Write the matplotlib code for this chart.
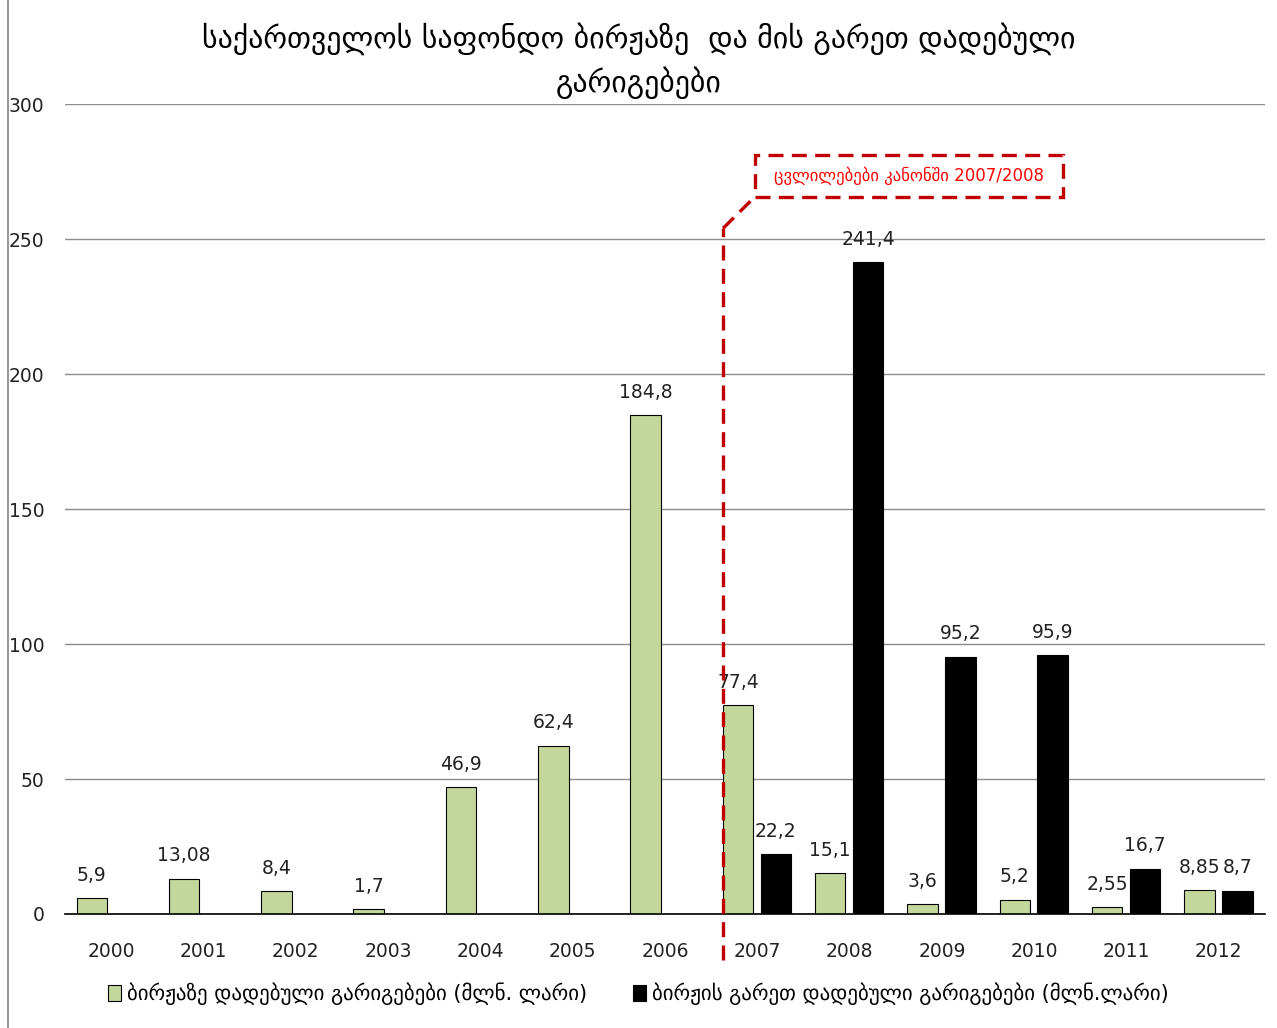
import numpy as np
import matplotlib.pyplot as plt
from matplotlib.lines import Line2D
from matplotlib.patches import Rectangle

# ---- data ----
years = ['2000', '2001', '2002', '2003', '2004', '2005', '2006',
         '2007', '2008', '2009', '2010', '2011', '2012']
on_exchange = [5.9, 13.08, 8.4, 1.7, 46.9, 62.4, 184.8,
               77.4, 15.1, 3.6, 5.2, 2.55, 8.85]
off_exchange = [None, None, None, None, None, None, None,
                22.2, 241.4, 95.2, 95.9, 16.7, 8.7]

title = 'საქართველოს საფონდო ბირჟაზე  და მის გარეთ დადებული\nგარიგებები'
label_on = 'ბირჟაზე დადებული გარიგებები (მლნ. ლარი)'
label_off = 'ბირჟის გარეთ დადებული გარიგებები (მლნ.ლარი)'
note = 'ცვლილებები კანონში 2007/2008'

GREEN = '#C3D69B'
RED_LINE = '#C00000'
RED_TEXT = '#FF0000'

plt.rcParams['font.family'] = ['DejaVu Sans']

fig = plt.figure(figsize=(12.77, 10.28), dpi=100)
ax = fig.add_axes([0.0509, 0.1109, 0.9397, 0.7879])

x = np.arange(len(years))
w = 0.33
off_g, off_b = -0.21, 0.20

bars_g = ax.bar(x + off_g, on_exchange, width=w, color=GREEN,
                edgecolor='black', linewidth=0.8, zorder=2, label=label_on)
xb = [xi for xi, v in zip(x, off_exchange) if v is not None]
vb = [v for v in off_exchange if v is not None]
bars_b = ax.bar(np.array(xb) + off_b, vb, width=w, color='black',
                edgecolor='black', linewidth=0.8, zorder=2, label=label_off)

def fmt(v):
    return str(v).replace('.', ',')

for xi, v in zip(x, on_exchange):
    ax.text(xi + off_g, v + 5, fmt(v), ha='center', va='bottom',
            fontsize=13.5, color='#222222', zorder=1)
for xi, v in zip(xb, vb):
    ax.text(xi + off_b, v + 5, fmt(v), ha='center', va='bottom',
            fontsize=13.5, color='#222222', zorder=1)

ax.set_xlim(-0.5, len(years) - 0.5)
ax.set_ylim(0, 300)
ax.set_yticks(range(0, 301, 50))
ax.set_xticks(x)
ax.set_xticklabels(years)
ax.tick_params(axis='both', length=0, labelsize=13.5, colors='#222222')
ax.tick_params(axis='x', pad=20)
ax.tick_params(axis='y', pad=15)
ax.grid(axis='y', color='#8c8c8c', linewidth=1, zorder=0)
ax.set_axisbelow(True)
for s in ['top', 'right', 'left']:
    ax.spines[s].set_visible(False)
ax.spines['bottom'].set_color('black')
ax.spines['bottom'].set_linewidth(1.2)

# ---- red annotation: legislation change ----
dash = dict(color=RED_LINE, linewidth=2.4, linestyle=(0, (4.5, 2.5)),
            clip_on=False, zorder=5)
ax.add_line(Line2D([6.63, 6.63], [-17, 254], **dash))
ax.add_line(Line2D([6.63, 6.94], [254, 264.5], **dash))
ax.add_patch(Rectangle((6.98, 265.5), 3.33, 15.6, fill=False,
                       edgecolor=RED_LINE, linewidth=2.4,
                       linestyle=(0, (4.5, 2.5)), clip_on=False, zorder=5))
ax.text(8.645, 273.3, note, ha='center', va='center', fontsize=12,
        color=RED_TEXT, zorder=6)

fig.suptitle(title, x=0.5, y=0.978, fontsize=21.5, linespacing=1.45)

fig.legend(handles=[bars_g, bars_b], labels=[label_on, label_off],
           loc='center', bbox_to_anchor=(0.5, 0.033), ncol=2,
           frameon=False, fontsize=15, handlelength=0.6, handleheight=0.8,
           handletextpad=0.3, columnspacing=2.2)

# left border of the chart area
fig.add_artist(Line2D([8 / 1277, 8 / 1277], [0, 1], color='#9a9a9a',
                      linewidth=1.5, transform=fig.transFigure))

fig.savefig('out.png', dpi=100)
